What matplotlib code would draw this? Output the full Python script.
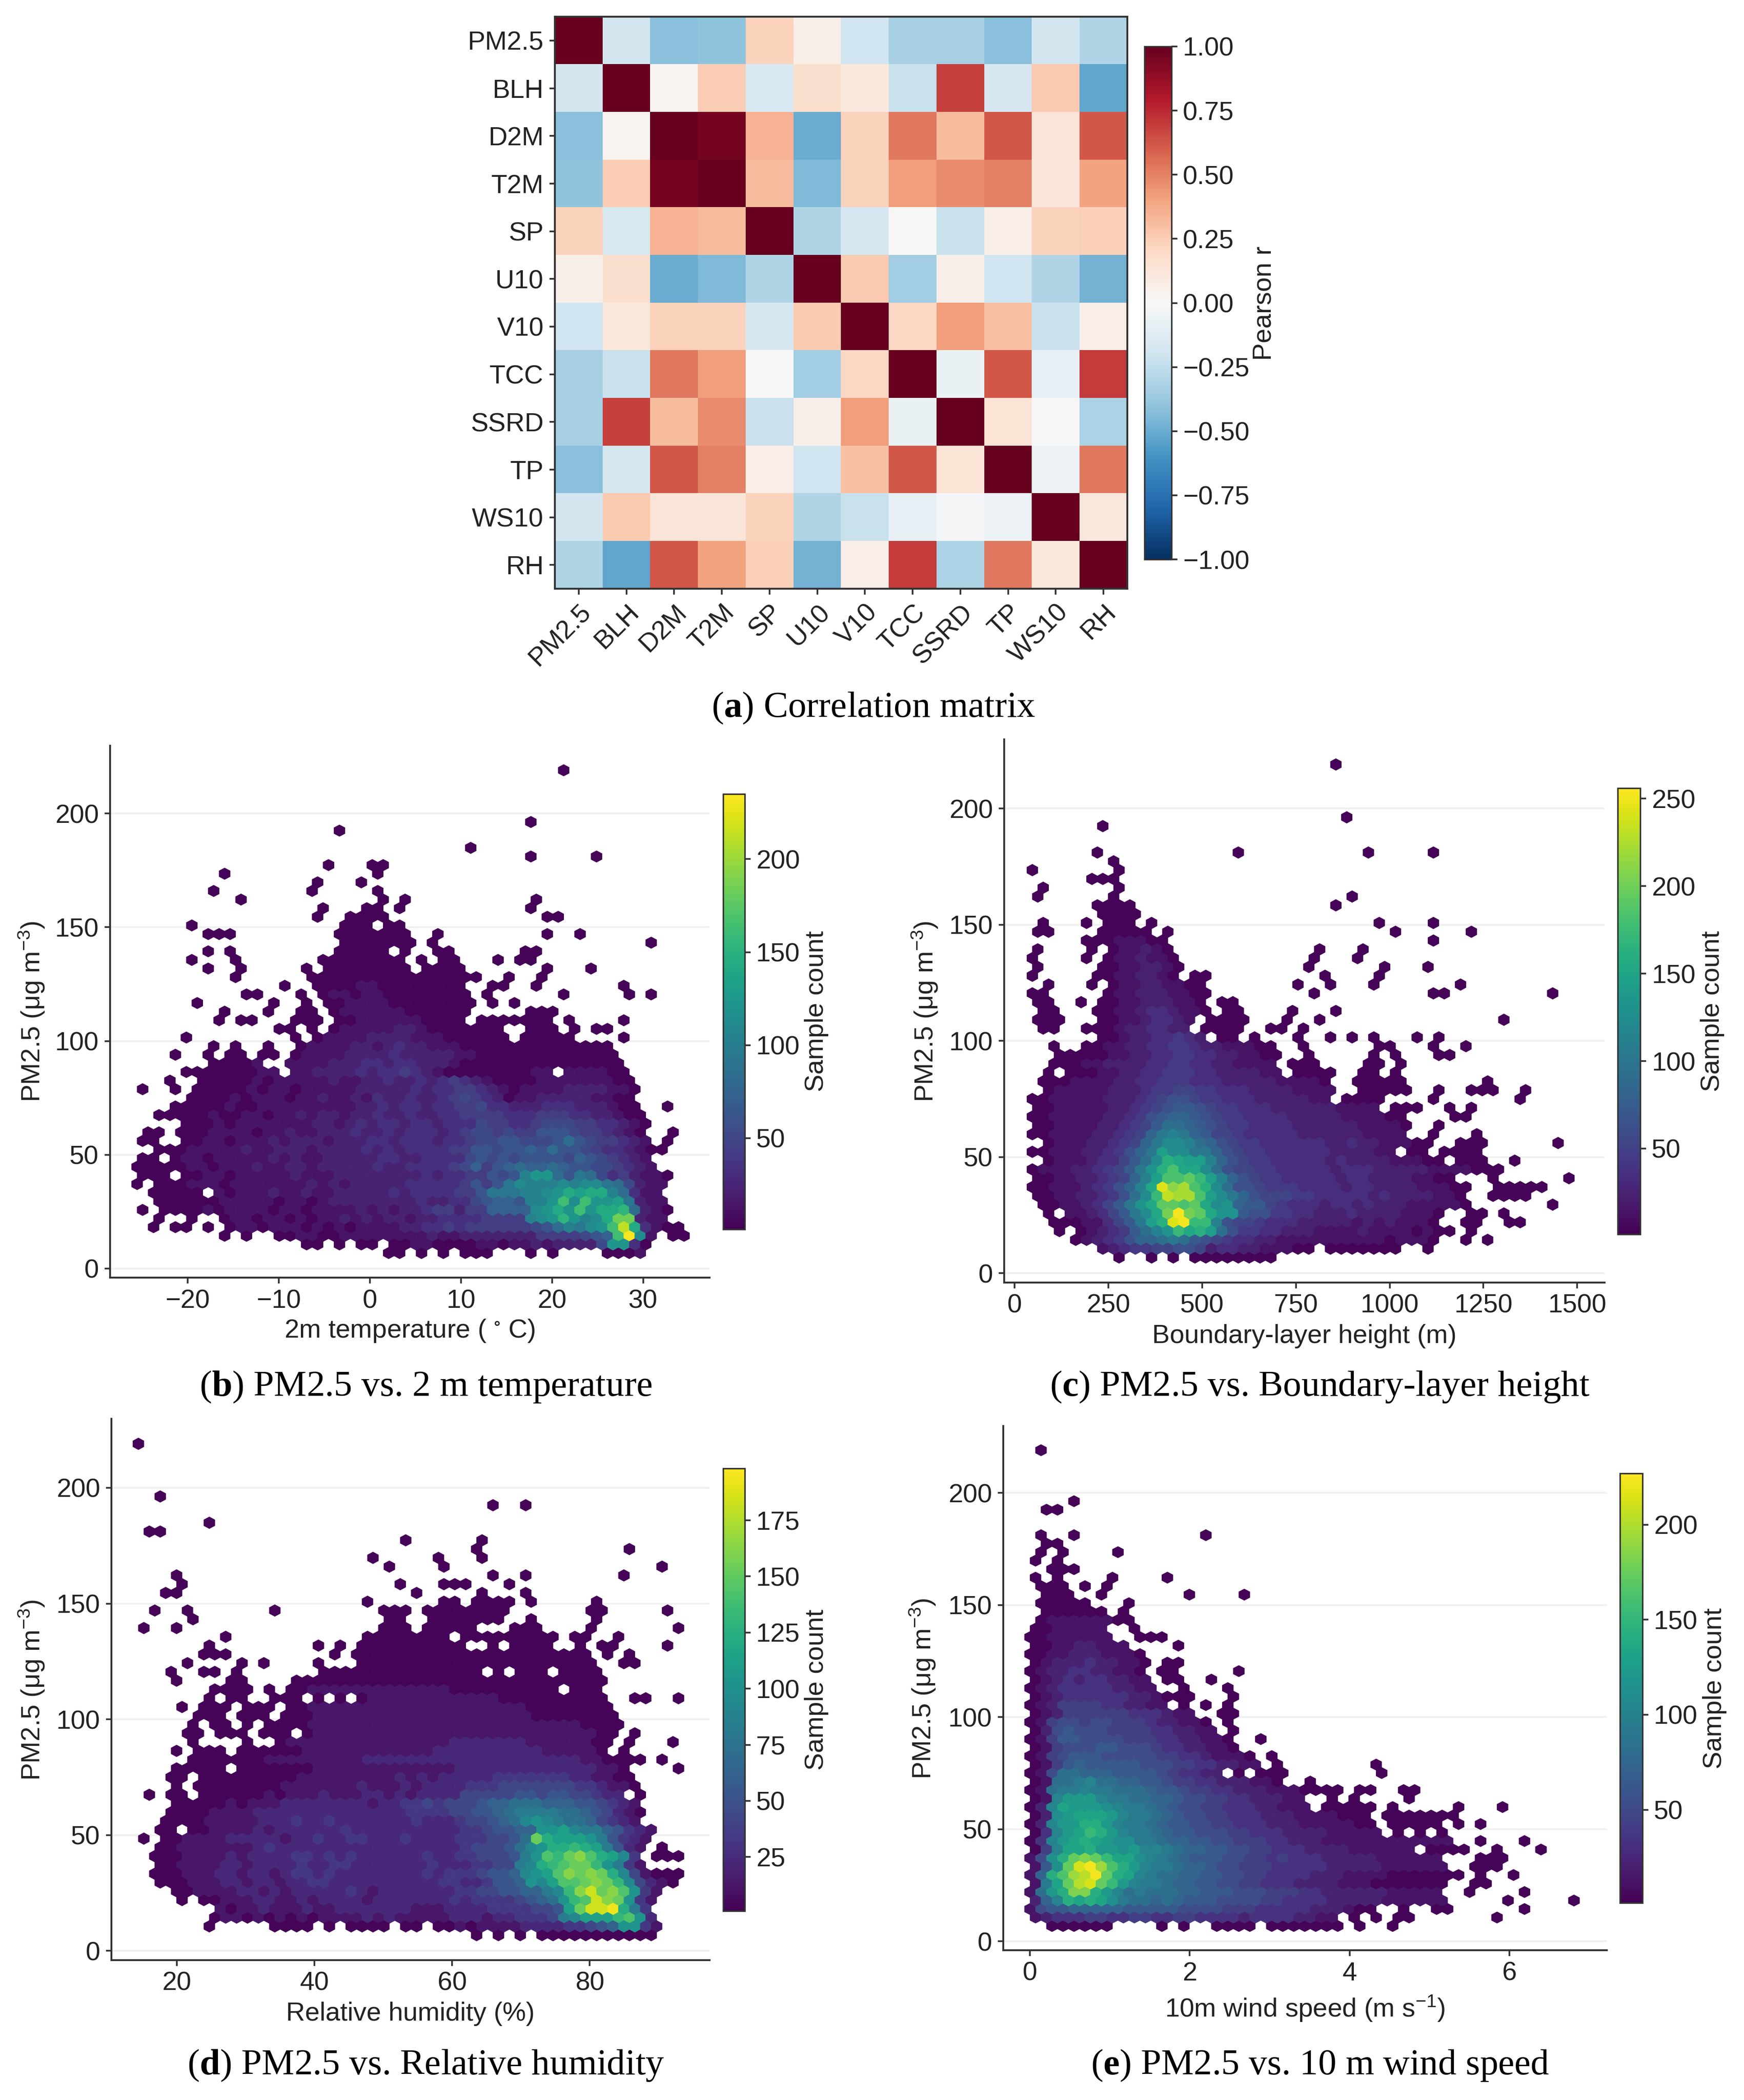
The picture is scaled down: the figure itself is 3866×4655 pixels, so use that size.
import numpy as np
import matplotlib
matplotlib.use("Agg")
import matplotlib.pyplot as plt
from matplotlib.ticker import FuncFormatter

plt.rcParams['font.family'] = ['Liberation Sans', 'DejaVu Sans']
plt.rcParams['mathtext.fontset'] = 'custom'
plt.rcParams['mathtext.rm'] = 'Liberation Sans'
plt.rcParams['mathtext.bf'] = 'Liberation Serif:bold'
plt.rcParams['mathtext.default'] = 'regular'

W, H = 3866, 4655
DARK = '#333333'
FS = 14.0

# correlation matrix
variables = ['PM2.5', 'BLH', 'D2M', 'T2M', 'SP', 'U10', 'V10', 'TCC', 'SSRD', 'TP', 'WS10', 'RH']
pearson = [
    [1.00, -.18, -.42, -.40, .23, .06, -.20, -.33, -.33, -.42, -.18, -.30],
    [-.18, 1.00, .03, .25, -.15, .16, .11, -.22, .68, -.17, .26, -.52],
    [-.42, .03, 1.00, .96, .35, -.50, .23, .53, .32, .62, .13, .62],
    [-.40, .25, .96, 1.00, .32, -.44, .23, .42, .47, .50, .12, .40],
    [.23, -.15, .35, .32, 1.00, -.30, -.17, .00, -.22, .07, .23, .24],
    [.06, .16, -.50, -.44, -.30, 1.00, .26, -.35, .06, -.20, -.30, -.47],
    [-.20, .11, .23, .23, -.17, .26, 1.00, .21, .42, .30, -.22, .07],
    [-.33, -.22, .53, .42, .00, -.35, .21, 1.00, -.07, .62, -.08, .70],
    [-.33, .68, .32, .47, -.22, .06, .42, -.07, 1.00, .14, .00, -.32],
    [-.42, -.17, .62, .50, .07, -.20, .30, .62, .14, 1.00, -.06, .53],
    [-.18, .26, .13, .12, .23, -.30, -.22, -.08, -.02, -.06, 1.00, .11],
    [-.30, -.52, .62, .40, .24, -.47, .07, .70, -.32, .53, .11, 1.00],
]

# hexbin cells: {row: "col:levels col-col:level"}, level = base 36, count = 3 + 10 * level
temp_cells = {
    0: "23-24:0 26:0 28:0 30-32:0 36:0 38:0 43-45:0 46:1",
    1: "15-16:0 18:0 20-21:0 23:00110000110112122225cc30",
    2: "8:0 10:0 13:0011001111111121122222224444567gnb1 49-50:0",
    3: "1:0 3-4:0 6:0 8:0110111010101111223343444444568a9bcgle31 48-49:0",
    4: "2:0 5:0 8:0110110101121212212233334444abcfcabeii211",
    5: "0:0 2-5:0 6:101111011011112121223442447777bcecgceef8210",
    6: "2-6:0 7:01111101101222222223223356776aacgbgccd9211",
    7: "1-5:0 7:1011121121122222323333446999aabcedeea8311",
    8: "0:0 2:000111011111112121222223333346469baaababb985211",
    9: "0-2:0 4:0011011111211122222222323344656acc86985342110",
    10: "0-3:0 4:01101112112212222232233334574678778766554321",
    11: "0-1:0 3:01101111121211222223322333356565666657654321",
    12: "2-3:0 4:0111112112221222232323333446656676866543321 47-48:0",
    13: "0-1:0 4:0011011121222122233233323345566555686544321 48:0",
    14: "1-2:0 4:0001111011211222322323332345545446665443210 49:0",
    15: "4:0001011111112212323323323335443345554433210",
    16: "2-3:0 4:0001001101121221223223223344443334443322100",
    17: "3:0 4:000010011111111122323323344533222333222100 48:0",
    18: "5:00001011101121121322322345432011222221100",
    19: "0:0 3:0 5:00000101101111122222323344321011112222110",
    20: "3:0 6:0000010111112112232232343210000111111100",
    21: "4-5:0 6:0000011 14:112222323343210000000011 39:111100",
    22: "7:00001 14:1111222332332221000000000000000",
    23: "3:0 6:0 8-9:0 11-12:0 14:011112222322222110000000000000",
    24: "7:0 9:0 12:0 15:01111221232211100000000000000",
    25: "4:0 14:0 16:011112222111000000 35-39:0 44:0",
    26: "13-14:0 16:0 18:0111112210000000 36-38:0 40:0 42-43:0",
    27: "7:0 9-10:0 14-16:0 18:001111110000 31-37:0 39:0 44:0",
    28: "8:0 12:0 15-16:0 18:0111111000000 36-38:0",
    29: "5:0 12:0 15:0 17:00111100000000 32:0 34:0",
    30: "10-11:0 15:0 17:01101100000000 32:0 39:0 45:0 47:0",
    31: "13:0 16:00001100000000 32-33:0 36:0 44:0",
    32: "9:0 16-31:0 34:0 37:0",
    33: "6:0 9:0 15:0 17-24:0 26-29:0 37:0 41:0",
    34: "5:0 9:0 17-24:0 26:0 28-29:0 33:0 35-36:0",
    35: "6:0 8:0 18-22:0 24:0 27-28:0 35-36:0",
    36: "19-25:0 27:0 47:0",
    37: "6-8:0 18-24:0 27:0 37:0 40:0",
    38: "5:0 19-21:0 23-24:0",
    39: "16:0 19-22:0 37-38:0",
    40: "17:0 21-22:0 24:0 36:0",
    41: "9:0 22:0 24:0 36:0",
    42: "7:0 16:0 22:0",
    43: "16:0 20:0",
    44: "8:0 22:0",
    45: "17:0 21-22:0",
    46: "36:0 42:0",
    47: "30:0",
    49: "18:0",
    50: "36:0",
    56: "39:0",
}

blh_cells = {
    0: "8:0 11:0 13:0 15-22:0",
    1: "6:12344556652332211100 27-33:0 36:0",
    2: "4:012346889a976543322111111111101110 40:0 42:0",
    3: "2:0 4:0123479bdhfge964433222111121111010 38:0 40:0",
    4: "2-3:0 4:011357aegophhb65543332222212121110 40-41:0 44-45:0",
    5: "1:0 3:112357acfkpkjfdd7664433222322221110 40-41:0 43:0",
    6: "1:00112357adfjjijfcd8775433323323222111110 48:0",
    7: "0:0011223469chnmmieca865554433333232222110 42:0 43-45:0",
    8: "0:0011123468bfolmigc96654443333233222211100 43-47:0",
    9: "0:0011223458beiijheb865443333323322221100 42:0 49:0",
    10: "0:0111223457adgiffc965544333332333222221111000",
    11: "1:0111233579cgfeeb865443333323222211100 39-41:0 44:0",
    12: "0:00111223468aeccaa86544333333222211 35-36:0 38-41:0",
    13: "1:0111223458accb98654433333322322111 35-36:0 39-41:0 48:0",
    14: "0:001111223458aba87554333332222221111 37:0 41:0",
    15: "0:00111122345799876544333322222211110 37:0",
    16: "0:00111112234678876544333322222111100 39-40:0",
    17: "0:00111112234567765443332222221111 33-35:0 38:0 40:0",
    18: "0:0011111222345665443332222211 29-32:0 37:0 45:0",
    19: "1:011111222344554433322221111 30-34:0 37:0 40-42:0 45:0",
    20: "1:000111122334443332222211110 30-34:0 42:0",
    21: "1:0 3:00011223344433222211 24-27:0 30-31:0 33:0",
    22: "2:000112222334433221111 24-26:0 31-32:0 34:0",
    23: "2:000001122334433221100 25:0 31:0 33:0 37-38:0",
    24: "2:0 5:0 6:01122334432211100 25:0 32-33:0 37:0 40:0",
    25: "6:0012233432 17-18:0 20:0 24:0 27:0 29:0 31:0 35:0 37:0",
    26: "1-2:0 5:0 6:001223322 16-19:0 22-23:0 25:0",
    27: "0-2:0 6:001123321 16-19:0 23:0 26:0 43:0",
    28: "1-2:0 6:00112332110 18-19:0 24:0 28:0",
    29: "0-1:0 4:0 6:0011222110 17-18:0",
    30: "0-1:0 7:0112221100 26:0 37-38:0 48:0",
    31: "1:0 5:0 7:011221100 24:0 27:0 31:0 39:0",
    32: "0:0 6:00112210 15-16:0 27:0 32:0",
    33: "0:0 6:00112210 25:0 32:0 36:0",
    34: "0:0 5:0 7:0112110 26:0 30:0",
    35: "0:0 5:0 7:011210 26:0 30:0",
    36: "5-6:0 7:01110 12:0 37:0",
    37: "0-1:0 6:0 7-10:0 12:0 33:0 40:0",
    38: "1:0 5:0 7-9:0 11:0 32:0 37:0",
    39: "6-9:0",
    40: "6-9:0 28:0",
    41: "0:0 7:0 29:0",
    42: "1:0 8:0",
    43: "5-7:0",
    44: "0:0 8:0",
    45: "7:0",
    46: "6:0 19:0 31:0 37:0",
    49: "6:0",
    50: "29:0",
    56: "28:0",
}

rh_cells = {
    0: "31:0 33:0 35:0 37-47:0",
    1: "6:0 12-15:0 17:0 19-22:0 24-25:0 27:00101111222233456aa31",
    2: "7:011010101011112121111122212233348 40:9bbbdea 47:2",
    3: "7:10112111211222222211122223333445bfiijc83",
    4: "4:0 6:0 7:01112211212222122222223233334567adeigfa31",
    5: "3:001111221212222232122222223344556689dgifgea31",
    6: "2:0 3:001112212212233222222222233223556a9beefgfd94210",
    7: "1:00011122122123323222222223233345569abegfgfc941 47-49:0",
    8: "2:00111122122223223322222223222334489cdeffda831",
    9: "1:00011112122223323232222223223344458aedfgecb93 47-49:0",
    10: "2:00111111123222222222222222223444579accdcb8521 48:0",
    11: "0:0 2:0011112222212232233222322223334457fcbbba85321",
    12: "2-3:0 5:00111121222222322222222223345566aab98865321",
    13: "2:0000111112223223222222232223445679a987764321",
    14: "3:00001111222222222222223333445567888877654210",
    15: "3:0000010111222222221223343444566777666554321",
    16: "1:0 3-4:0 6:000000101112111221212222444445545544322 46:0",
    17: "3:0 5:0 6:000000011111112111212222333444444433211 45:0",
    18: "3-4:0 6:000000000111111111212122222333333322110 45:0",
    19: "3-7:0 9:000000011111111111112222222222222110 49:0",
    20: "5:000000011111111122222222222222222222110 44-46:0 48:0",
    21: "3:0 5-7:0 9:0000001111111111112222222222111110 44:0",
    22: "5:0 10:0 13:0111111111111111222222211111100 45:0 49:0",
    23: "4-5:0 7-9:0 11-13:0 15:01111111111111111111111111100 45:0",
    24: "5:0 7-8:0 10:0 12:0 13:00011111111111111111111111110000",
    25: "5-7:0 9-11:0 13:0001111111111111111111100000000",
    26: "4:0 6-8:0 10-12:0 14:001111111111111111111100000000",
    27: "6:0 8-9:0 12-14:0 16:0 18:0 20:01111111111110000000000 45-46:0 49:0",
    28: "7-10:0 12:0 14:0011111111111110000000000 40-42:0",
    29: "3:0 8-9:0 14-42:0",
    30: "3:0 6-7:0 9:0 17-31:0 33:0 35-37:0 39-42:0",
    31: "4:0 9:0 11:0 16:0 20-41:0 44-45:0",
    32: "6-8:0 18:0 20-41:0 43:0 45:0",
    33: "6:0 16:0 18:0 20-29:0 32:0 34-37:0 40:0 42-43:0 48:0",
    34: "8:0 21-28:0 30-38:0 40-41:0 44:0",
    35: "0:0 3:0 22-24:0 26-30:0 34-36:0 41:0 49:0",
    36: "5:0 23-24:0 27-33:0 36:0 42:0",
    37: "1:0 4:0 12:0 22-24:0 26-33:0 41-42:0 48:0",
    38: "21:0 28-29:0 31-34:0 36:0 42:0",
    39: "2-3:0 25:0 31:0 35:0",
    40: "4:0 24:0 28-30:0 34:0",
    41: "3:0 32:0 35:0 44:0",
    42: "23:0 28:0 48:0",
    43: "21:0 27:0 31:0",
    44: "31:0 45:0",
    45: "24:0 31:0",
    46: "1-2:0",
    47: "6:0",
    49: "32:0 35:0",
    50: "2:0",
    56: "0:0",
}

wind_cells = {
    0: "2-7:0 12:0 14:0 17-20:0 22-28:0 30:0 33:0",
    1: "0:1233344334433443333233332211 29:0 31:0 33-34:0 42:0",
    2: "0:15667777766666555544433333222100 34:0 37-38:0 45:0",
    3: "0:27aededb988787666555544333322222111111 43:0 49:0",
    4: "0:18ceiieca89888776665554443322222211111 40:0 45:0",
    5: "0:19dhklhfca9987766554433322221110 32-37:0 40-41:0",
    6: "0:17egjkmheda98877665544333322211110 34-39:0 41:0 44:0",
    7: "0:16bhlmjgeca998776554443333322222111111 40-42:0",
    8: "0:15behihfddba98766655443433322222111111 41-43:0",
    9: "0:04addeccbcaa98776655443332222111111 36-39:0 42:0 46:0",
    10: "0:03acdedcbb99877665544433222111111111111 41:0 45:0",
    11: "0:03acdfeca99876655544333222211111 33:0 35:0 37:0",
    12: "0:02acceeca99876655443332221111100 33-37:0 39:0 41:0",
    13: "0:02bcdddca9987655443332221111000 32-38:0",
    14: "0:02adcccba99876554433322111 27-31:0 33:0 39:0 43:0",
    15: "0:01accca998877655443322211 27:0 29:0 34:0",
    16: "0:01899a9988876654433222111 25-28:0 30-31:0 34-35:0",
    17: "0:01889a88776654433222110 25:0",
    18: "0:015887776666543322 19:0 21-22:0 23:0 32:0",
    19: "0:014676666655544332211 22:0 31:0",
    20: "0:014566655555443321110 22:0",
    21: "0:0145556655543322110",
    22: "0:0146655554443322110 21:0",
    23: "0:02565554444332211 18:0",
    24: "0:01455455444322110 18:0",
    25: "0:012444444333211 17-18:0",
    26: "0:0124444332211 14:0 16:0 18:0",
    27: "0:012333333221 12-14:0 18:0",
    28: "0:012333332211 14:0 18:0",
    29: "0:01232332211 12-13:0 16:0",
    30: "0:01223322110 12-13:0 19:0",
    31: "0:01222322110 12-13:0",
    32: "0:00112221110",
    33: "0:001122111 13:0",
    34: "0:00111111 10-12:0",
    35: "0:0011111 9:0",
    36: "1:011111100",
    37: "1:000000 8:0",
    38: "1-5:0 9:0",
    39: "1-3:0 6:0 14:0 19:0",
    40: "1-3:0 5:0 7:0",
    41: "0:0 2:0 7:0 12:0",
    42: "2-4:0",
    43: "0:0 2:0",
    44: "1:0 3:0 8:0",
    45: "1-2:0",
    46: "1:0 4:0 16:0",
    49: "1-2:0",
    50: "4:0",
    56: "1:0",
}


def decode(cells, x0, sx, y0, sy):
    xs, ys, counts = [], [], []
    for r, line in cells.items():
        for tok in line.split():
            pos, vals = tok.split(':')
            if '-' in pos:
                a, b = pos.split('-')
                start, vals = int(a), vals * (int(b) - int(a) + 1)
            else:
                start = int(pos)
            for k, ch in enumerate(vals):
                xs.append(x0 + sx * (start + k + 0.5 * (r % 2)))
                ys.append(y0 + r * sy / 2)
                counts.append(3 + 10 * int(ch, 36))
    return xs, ys, counts


def box(l, t, r, b):
    return [l / W, 1 - b / H, (r - l) / W, (b - t) / H]


def hex_panel(cells, x0, sx, vmax, xlim, xticks, xlabel, cticks, ax_px, cb_px, xlab_y, ylab_x, clab_x, ylab_c, caption, cap_x, cap_y):
    ymin, ymax = 6.8, 219.0
    sy = (ymax - ymin) / 28
    x, y, c = decode(cells, x0, sx, ymin, sy)
    ax = fig.add_axes(box(*ax_px))
    hb = ax.hexbin(x, y, C=c, gridsize=(50, 28), extent=(x0, x0 + 50 * sx, ymin, ymax),
                   reduce_C_function=np.sum, cmap='viridis', vmin=1, vmax=vmax, linewidths=0.25)
    ax.set_xlim(*xlim)
    ax.set_ylim(-4, 229.8)
    ax.set_xticks(xticks)
    ax.set_yticks([0, 50, 100, 150, 200])
    ax.yaxis.grid(True, color='#f0f0f0', lw=1.0)
    ax.set_axisbelow(True)
    for s in ['top', 'right']:
        ax.spines[s].set_visible(False)
    for s in ['left', 'bottom']:
        ax.spines[s].set_color(DARK)
        ax.spines[s].set_linewidth(1.0)
    ax.tick_params(labelsize=FS, color=DARK, length=3, width=0.9, pad=3, labelcolor='#222222')
    ax.set_xlabel(xlabel, fontsize=FS, color='#222222', va='center')
    ax.set_ylabel('PM2.5 (μg m$^{-3}$)', fontsize=FS, color='#222222', va='center')
    ax.xaxis.set_label_coords((ax_px[0] + ax_px[2]) / 2 / W, 1 - xlab_y / H, transform=fig.transFigure)
    ax.yaxis.set_label_coords(ylab_x / W, 1 - ylab_c / H, transform=fig.transFigure)
    cax = fig.add_axes(box(*cb_px))
    cb = fig.colorbar(hb, cax=cax, ticks=cticks)
    cb.ax.tick_params(labelsize=FS, color=DARK, length=3, width=0.9, pad=3, labelcolor='#222222')
    cb.outline.set_edgecolor(DARK)
    cb.outline.set_linewidth(0.8)
    fig.text(clab_x / W, 1 - ylab_c / H, 'Sample count', rotation=90, ha='center', va='center', fontsize=FS, color='#222222')
    fig.text(cap_x / W, 1 - cap_y / H, caption, ha='center', va='center', fontsize=CAP_FS, family='Liberation Serif', color='black')


CAP_FS = 19.5
fig = plt.figure(figsize=(W / 300, H / 300), dpi=300, facecolor='white')

# (a) correlation matrix
ax_a = fig.add_axes(box(1230, 37, 2499, 1305))
im = ax_a.imshow(np.array(pearson), cmap='RdBu_r', vmin=-1, vmax=1, aspect='auto', interpolation='nearest')
ax_a.set_xticks(range(len(variables)))
ax_a.set_yticks(range(len(variables)))
ax_a.set_xticklabels(variables, rotation=45, ha='right', rotation_mode='anchor', fontsize=FS, color='#222222')
ax_a.set_yticklabels(variables, fontsize=FS, color='#222222')
ax_a.tick_params(color=DARK, length=3, width=0.9, pad=3)
for s in ax_a.spines.values():
    s.set_color(DARK)
    s.set_linewidth(1.0)
cax_a = fig.add_axes(box(2537, 103, 2597, 1240))
cb_a = fig.colorbar(im, cax=cax_a, ticks=np.arange(-1, 1.01, 0.25),
                    format=FuncFormatter(lambda v, _: f"{v:.2f}".replace('-', '\u2212')))
cb_a.ax.tick_params(labelsize=FS, color=DARK, length=3, width=0.9, pad=3, labelcolor='#222222')
cb_a.outline.set_edgecolor(DARK)
cb_a.outline.set_linewidth(0.8)
fig.text(2802 / W, 1 - 672 / H, 'Pearson r', rotation=90, ha='center', va='center', fontsize=FS, color='#222222')
fig.text(1936 / W, 1 - 1570 / H, r'($\mathbf{a}$) Correlation matrix', ha='center', va='center',
         fontsize=CAP_FS, family='Liberation Serif', color='black')

hex_panel(temp_cells, -25.53, 1.2004, 235, (-28.5, 37.3), [-20, -10, 0, 10, 20, 30], '2m temperature ( $^{\\circ}$ C)',
          [50, 100, 150, 200], (244, 1653, 1573, 2832), (1603, 1760, 1651, 2725), 2950, 70, 1810, 2242,
          r'($\mathbf{b}$) PM2.5 vs. 2 m temperature', 944, 3075)
hex_panel(blh_cells, 47.4, 28.9, 256, (-27.7, 1573), [0, 250, 500, 750, 1000, 1250, 1500], 'Boundary-layer height (m)',
          [50, 100, 150, 200, 250], (2226, 1639, 3557, 2843), (3586, 1747, 3636, 2736), 2962, 2050, 3796, 2242,
          r'($\mathbf{c}$) PM2.5 vs. Boundary-layer height', 2926, 3075)
hex_panel(rh_cells, 14.42, 1.585, 198, (10.5, 97.4), [20, 40, 60, 80], 'Relative humidity (%)',
          [25, 50, 75, 100, 125, 150, 175], (247, 3145, 1573, 4345), (1603, 3255, 1651, 4236), 4464, 70, 1810, 3746,
          r'($\mathbf{d}$) PM2.5 vs. Relative humidity', 944, 4579)
hex_panel(wind_cells, 0.002, 0.1375, 227, (-0.333, 7.22), [0, 2, 4, 6], '10m wind speed (m s$^{-1}$)',
          [50, 100, 150, 200], (2224, 3161, 3562, 4323), (3591, 3266, 3641, 4218), 4451, 2045, 3801, 3743,
          r'($\mathbf{e}$) PM2.5 vs. 10 m wind speed', 2926, 4579)

plt.savefig('out.png', dpi=300, facecolor='white')
